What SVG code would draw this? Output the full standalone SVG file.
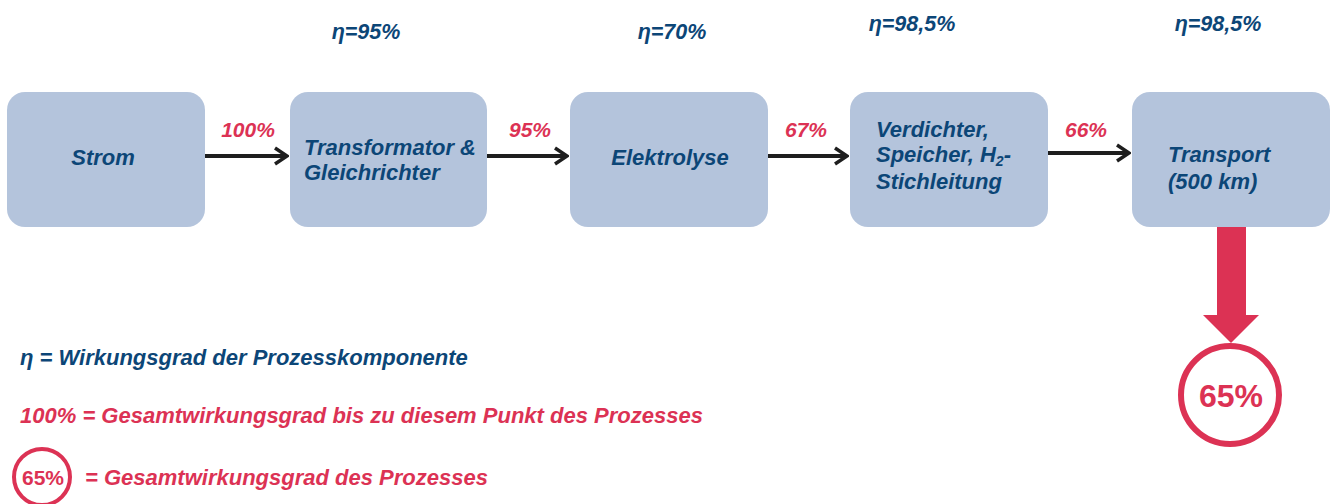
<svg xmlns="http://www.w3.org/2000/svg" width="1336" height="504" viewBox="0 0 1336 504">
<defs>
<style>
.box{fill:#b4c4dc;}
.t{font-family:"Liberation Sans",Arial,sans-serif;font-weight:bold;font-style:italic;font-size:22px;fill:#0c4677;}
.eta{font-family:"Liberation Sans",Arial,sans-serif;font-weight:bold;font-style:italic;font-size:21.5px;fill:#0c4677;text-anchor:middle;}
.pct{font-family:"Liberation Sans",Arial,sans-serif;font-weight:bold;font-style:italic;font-size:21px;fill:#dc3254;text-anchor:middle;}
.leg{font-family:"Liberation Sans",Arial,sans-serif;font-weight:bold;font-style:italic;font-size:22px;}
.conn{stroke:#1e1e1e;stroke-width:4;fill:none;}
</style>
<marker id="ah" viewBox="0 0 16 20" refX="14" refY="10" markerWidth="16" markerHeight="20" markerUnits="userSpaceOnUse" orient="auto">
<path d="M2,2 L14,10 L2,18" fill="none" stroke="#1e1e1e" stroke-width="3.5"/>
</marker>
</defs>
<rect width="1336" height="504" fill="#ffffff"/>

<g id="eta-labels">
<text class="eta" x="366" y="39">η=95%</text>
<text class="eta" x="672" y="39">η=70%</text>
<text class="eta" x="912" y="31">η=98,5%</text>
<text class="eta" x="1218" y="31">η=98,5%</text>
</g>

<g id="node-strom">
<rect class="box" x="7" y="92" width="198" height="135" rx="18"/>
<text class="t" x="103" y="165" text-anchor="middle">Strom</text>
</g>
<g id="node-transformator">
<rect class="box" x="290" y="92" width="197" height="135" rx="18"/>
<text class="t" x="304" y="155">Transformator &amp;</text>
<text class="t" x="304" y="180">Gleichrichter</text>
</g>
<g id="node-elektrolyse">
<rect class="box" x="570" y="92" width="198" height="135" rx="18"/>
<text class="t" x="670" y="165" text-anchor="middle">Elektrolyse</text>
</g>
<g id="node-verdichter">
<rect class="box" x="850" y="92" width="198" height="135" rx="18"/>
<text class="t" x="876" y="137">Verdichter,</text>
<text class="t" x="876" y="162">Speicher, H<tspan font-size="14" dy="4">2</tspan><tspan dy="-4">-</tspan></text>
<text class="t" x="876" y="189">Stichleitung</text>
</g>
<g id="node-transport">
<rect class="box" x="1132" y="92" width="198" height="135" rx="18"/>
<text class="t" x="1168" y="162">Transport</text>
<text class="t" x="1168" y="189">(500 km)</text>
</g>

<g id="connectors">
<line class="conn" x1="205" y1="156" x2="287" y2="156" marker-end="url(#ah)"/>
<line class="conn" x1="487" y1="156" x2="567" y2="156" marker-end="url(#ah)"/>
<line class="conn" x1="768" y1="156" x2="847" y2="156" marker-end="url(#ah)"/>
<line class="conn" x1="1048" y1="153" x2="1129" y2="153" marker-end="url(#ah)"/>
<polygon points="1217,227 1246,227 1246,315 1259,315 1231,343 1203,315 1217,315" fill="#dc3254"/>
</g>

<g id="flow-labels">
<text class="pct" x="248" y="137">100%</text>
<text class="pct" x="530" y="137">95%</text>
<text class="pct" x="806" y="137">67%</text>
<text class="pct" x="1086" y="137">66%</text>
</g>

<g id="result">
<circle cx="1230" cy="395" r="49" fill="#ffffff" stroke="#dc3254" stroke-width="6"/>
<text x="1231" y="407" text-anchor="middle" font-family="Liberation Sans,Arial,sans-serif" font-weight="bold" font-size="32" fill="#dc3254">65%</text>
</g>

<g id="legend">
<text class="leg" x="20" y="365" fill="#0c4677">η = Wirkungsgrad der Prozesskomponente</text>
<text class="leg" x="20" y="423" fill="#dc3254">100% = Gesamtwirkungsgrad bis zu diesem Punkt des Prozesses</text>
<circle cx="42" cy="477" r="28" fill="none" stroke="#dc3254" stroke-width="4"/>
<text x="43" y="485" text-anchor="middle" font-family="Liberation Sans,Arial,sans-serif" font-weight="bold" font-size="21" fill="#dc3254">65%</text>
<text class="leg" x="85" y="485" fill="#dc3254">= Gesamtwirkungsgrad des Prozesses</text>
</g>
</svg>
